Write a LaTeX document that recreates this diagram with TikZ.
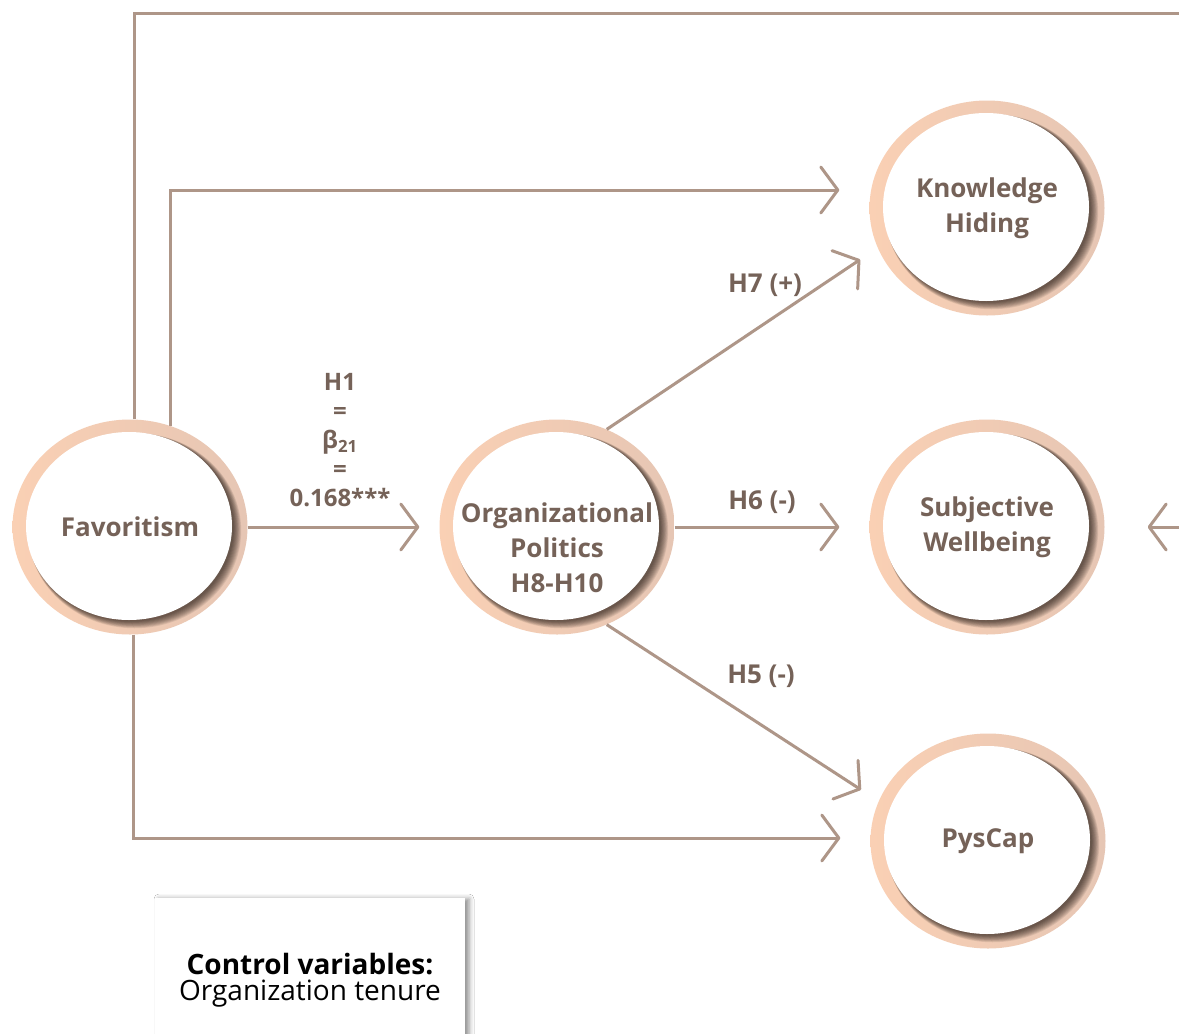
\documentclass[tikz,border=0pt]{standalone}
\usepackage{fontspec}
\setmainfont{Open Sans}
\usetikzlibrary{calc,shapes.geometric,arrows.meta,shadows.blur}
\definecolor{linec}{RGB}{174,150,136}
\definecolor{txtc}{RGB}{117,98,88}
\definecolor{ringl}{RGB}{250,208,180}
\definecolor{ringr}{RGB}{230,198,180}
\definecolor{shadowc}{RGB}{30,20,15}
\tikzset{
	factor/.style={ellipse, minimum width=235pt, minimum height=215pt, inner sep=0pt,
		left color=ringl, right color=ringr,
		path picture={
			\foreach \k in {0,...,9}
				\fill[shadowc, opacity=0.09] ($(path picture bounding box.center)+({1+0.4*\k},{0.5+0.35*\k})$) ellipse [x radius={103pt+0.4pt*\k}, y radius={94pt+0.4pt*\k}];
			\fill[white] ($(path picture bounding box.center)+(-1,-1)$) ellipse [x radius=103pt, y radius=94pt];
		}},
	ftext/.style={text=txtc, align=center, inner sep=0pt, font=\fontsize{26}{35}\selectfont\bfseries},
	link/.style={draw=linec, line width=3pt, -{Straight Barb[length=17pt, width=46pt, line width=3pt, round]}},
	plain/.style={draw=linec, line width=3pt},
	hlabel/.style={text=txtc, font=\fontsize{26}{29}\selectfont\bfseries, inner sep=0pt, align=center},
	ctrlbox/.style={fill=white, minimum width=310pt, minimum height=164pt, align=center,
		font=\fontsize{28}{26}\selectfont, text=black,
		blur shadow={shadow xshift=4pt, shadow yshift=-1pt, shadow blur radius=5pt, shadow opacity=45}}
}

\begin{document}
\begin{tikzpicture}[x=1pt, y=-1pt]
	%%%%% START %%%%%
	\useasboundingbox (0,0) rectangle (1179,1034);
	\clip (0,0) rectangle (1179,1034);
	\fill[white] (0,0) rectangle (1179,1034);
	
	\node[factor, label={[ftext, name=favtext]center:Favoritism}] (fav) at (130, 527) {};
	\node[factor, label={[ftext, name=poltext, yshift=-21pt]center:{Organizational\\Politics\\H8-H10}}] (pol) at (557, 527) {};
	\node[factor, label={[ftext, name=khtext]center:{Knowledge\\Hiding}}] (kh) at (987, 208) {};
	\node[factor, label={[ftext, name=swtext]center:{Subjective\\Wellbeing}}] (sw) at (987, 527) {};
	\node[factor, label={[ftext, name=pctext]center:PysCap}] (pc) at (988, 841) {};
	
	\coordinate (topend) at (1179, 13);
	\coordinate (rightin) at (1179, 527);
	
	\draw[plain] ([xshift=4pt]fav.north) |- (topend);
	\draw[link, shorten >=30pt] (fav.68) |- ([yshift=18pt]kh.west);
	\draw[link, shorten >=20pt] (fav) -- (pol);
	\draw[link, shorten >=30pt] ([xshift=3pt]fav.south) |- ([yshift=3pt]pc.west);
	
	\draw[link, shorten >=21pt] (pol.63) -- (kh.200);
	\draw[link, shorten >=30pt] (pol) -- (sw);
	\draw[link, shorten >=21pt] (pol.-63) -- (pc.160);
	\draw[link, shorten >=43pt] (rightin) -- (sw);
	
	\node[hlabel, font=\fontsize{24}{29}\selectfont\bfseries, anchor=south] (h1) at (340, 507) {H1\\=\\β\textsubscript{21}\\=\\0.168***};
	\node[hlabel] (h7) at (765, 285) {H7 (+)};
	\node[hlabel] (h6) at (762, 502) {H6 (-)};
	\node[hlabel] (h5) at (761, 676) {H5 (-)};
	
	\node[ctrlbox] (ctrl) at (310, 980) {\textbf{Control variables:}\\Organization tenure};
	%%%%% END %%%%%
\end{tikzpicture}
\end{document}
